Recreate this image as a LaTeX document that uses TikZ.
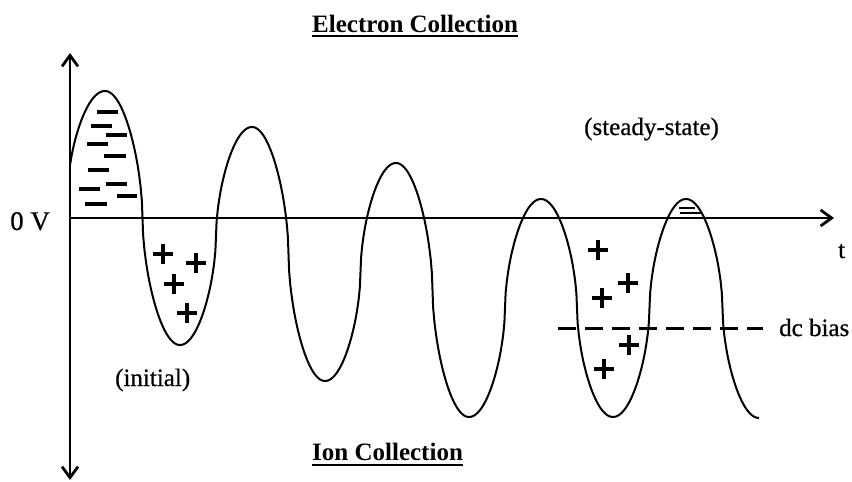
\documentclass[tikz,border=0pt]{standalone}
\usepackage{fontspec}
\setmainfont{Liberation Serif}
\newfontfamily\scanfont{Liberation Serif}[FakeBold=0.6]
\usetikzlibrary{arrows.meta}
\begin{document}
\begin{tikzpicture}[x=1pt,y=-1pt,
  axisline/.style={line width=2.8pt},
  tipend/.style={-{Straight Barb[length=11pt,width=16pt]}},
  wave/.style={line width=2pt, line join=round},
  minusmark/.style={line width=3.4pt},
  plusmark/.style={line width=3.2pt},
  smallmark/.style={line width=2.2pt},
  bias/.style={line width=3pt, dash pattern=on 18pt off 9pt},
  lbl/.style={font=\scanfont\fontsize{25}{30}\selectfont, inner sep=0pt, anchor=base west},
  ttl/.style={font=\fontsize{25}{30}\selectfont\bfseries, inner sep=0pt, anchor=base west},
  uline/.style={line width=2pt}]
\useasboundingbox (0,0) rectangle (852,482);
% axes
\coordinate (O) at (70,218);
\coordinate (ytop) at (70,53);
\coordinate (ybot) at (70,480);
\coordinate (xend) at (834,218);
\draw[axisline,{Straight Barb[length=11pt,width=16pt]}-{Straight Barb[length=11pt,width=16pt]}] (ybot) -- (ytop);
\draw[axisline,tipend] (O) -- (xend);
% waveform
\draw[wave] (70,165) \foreach \xa/\ya/\xb/\yb/\ds in {30/299/105/91/96, 105/91/180/345/0, 180/345/252/127/0, 252/127/325/381/0, 325/381/396/163/0, 396/163/469/417/0, 469/417/541/199/0, 541/199/613/417/0, 613/417/686/199/0, 686/199/759/418/0}
  { -- plot[domain=\ds:180, samples=60] ({\xa+(\xb-\xa)*\x/180},{(\ya+\yb)/2+(\ya-\yb)/2*cos(\x)*(abs(cos(\x))+0.0001)^(-0.45)}) };
% electrons
\foreach \xa/\xb/\yy in {97/118/112, 91/112/126, 106/127/135, 87/108/144, 104/126/156, 88/109/170, 79/100/189, 106/127/184, 117/137/196, 85/107/204}
  \draw[minusmark] (\xa,\yy) -- (\xb,\yy);
% ions
\foreach \px/\py in {163/254, 196/263, 174/284, 187/313, 598/250, 628/283, 602/298, 629/345, 604/369}
  \draw[plusmark] (\px-10,\py) -- (\px+10,\py) (\px,\py-10) -- (\px,\py+10);
% small marks in last peak
\draw[smallmark] (679,208) -- (695,208);
\draw[smallmark] (680,213) -- (702,213);
% dc bias
\coordinate (b1) at (558,328);
\coordinate (b2) at (763,328);
\draw[bias] (b1) -- (b2);
% labels
\node[ttl] (ec) at (312,32) {Electron Collection};
\draw[uline] ([yshift=-4pt]ec.base west) -- ([yshift=-4pt]ec.base east);
\node[ttl] (ic) at (312,460) {Ion Collection};
\draw[uline] ([yshift=-5pt]ic.base west) -- ([yshift=-5pt]ic.base east);
\node[lbl, font=\scanfont\fontsize{27}{32}\selectfont] (zv) at (10,230) {0 V};
\node[lbl] (tl) at (838,258) {t};
\node[lbl] (ss) at (584,135) {(steady-state)};
\node[lbl] (ini) at (115,386) {(initial)};
\node[lbl] (dc) at (779,336) {dc bias};
\end{tikzpicture}
\end{document}
